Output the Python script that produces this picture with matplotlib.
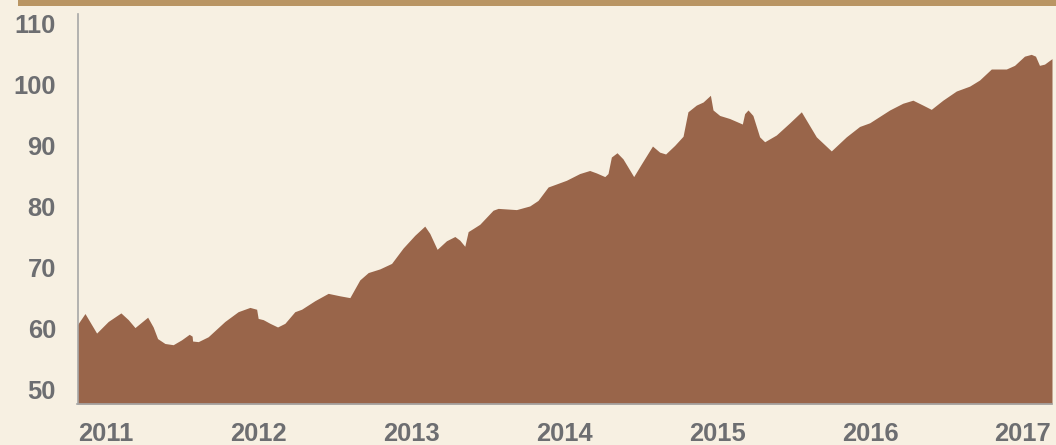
import matplotlib
matplotlib.use("Agg")
import matplotlib.pyplot as plt
from matplotlib.patches import Rectangle

# Data (fractional years, index values)
years = [2010.814, 2010.863, 2010.939, 2011.015, 2011.098, 2011.146, 2011.190, 2011.273,
         2011.309, 2011.338, 2011.386, 2011.440, 2011.495, 2011.545, 2011.564, 2011.567,
         2011.604, 2011.669, 2011.778, 2011.865, 2011.942, 2011.986, 2011.996, 2012.029,
         2012.073, 2012.123, 2012.171, 2012.236, 2012.280, 2012.367, 2012.454, 2012.530,
         2012.596, 2012.661, 2012.716, 2012.792, 2012.869, 2012.944, 2013.021, 2013.086,
         2013.119, 2013.167, 2013.228, 2013.283, 2013.315, 2013.348, 2013.370, 2013.402,
         2013.446, 2013.533, 2013.566, 2013.686, 2013.773, 2013.827, 2013.893, 2013.937,
         2014.013, 2014.100, 2014.165, 2014.209, 2014.264, 2014.285, 2014.307, 2014.344,
         2014.383, 2014.453, 2014.504, 2014.576, 2014.623, 2014.662, 2014.721, 2014.776,
         2014.808, 2014.863, 2014.907, 2014.955, 2014.972, 2015.016, 2015.081, 2015.164,
         2015.179, 2015.201, 2015.233, 2015.277, 2015.310, 2015.386, 2015.474, 2015.550,
         2015.648, 2015.746, 2015.844, 2015.931, 2015.997, 2016.128, 2016.214, 2016.280,
         2016.345, 2016.400, 2016.476, 2016.564, 2016.651, 2016.716, 2016.793, 2016.891,
         2016.945, 2017.010, 2017.054, 2017.082, 2017.108, 2017.141, 2017.190]
values = [60.7, 62.5, 59.3, 61.2, 62.6, 61.5, 60.2, 61.9,
          60.3, 58.4, 57.6, 57.4, 58.2, 59.1, 58.8, 58.0,
          57.9, 58.7, 61.2, 62.8, 63.5, 63.2, 61.7, 61.5,
          60.9, 60.3, 60.9, 62.8, 63.2, 64.6, 65.8, 65.4,
          65.1, 68.0, 69.2, 69.8, 70.7, 73.2, 75.3, 76.8,
          75.6, 73.0, 74.4, 75.1, 74.5, 73.5, 75.9, 76.4,
          77.1, 79.4, 79.7, 79.5, 80.1, 81.0, 83.2, 83.6,
          84.3, 85.4, 85.9, 85.5, 84.9, 85.4, 88.1, 88.8,
          87.8, 84.9, 87.0, 89.9, 88.9, 88.6, 90.0, 91.5,
          95.5, 96.6, 97.1, 98.2, 95.8, 94.9, 94.4, 93.5,
          95.2, 95.8, 94.9, 91.4, 90.6, 91.7, 93.7, 95.5,
          91.4, 89.1, 91.4, 93.1, 93.7, 95.8, 96.9, 97.4,
          96.6, 95.9, 97.4, 98.9, 99.7, 100.7, 102.5, 102.5,
          103.1, 104.6, 104.9, 104.6, 103.1, 103.3, 104.2]
x_ticks = [2011, 2012, 2013, 2014, 2015, 2016, 2017]
x_labels = ["2011", "2012", "2013", "2014", "2015", "2016", "2017"]
y_ticks = [50, 60, 70, 80, 90, 100, 110]

BG = "#F7F0E2"
FILL = "#99654A"
BAND = "#B99563"
TXT = "#6D6E71"
AXC = "#A7A7A7"

fig = plt.figure(figsize=(10.56, 4.45), dpi=100, facecolor=BG)
ax = fig.add_axes([77.5 / 1056, 41 / 445, (1052 - 77.5) / 1056, (431 - 41) / 445])
ax.set_facecolor(BG)

ymin = 47.7
ax.fill_between(years, values, ymin, color=FILL, linewidth=0, zorder=2)
ax.set_xlim(2010.814, 2017.19)
ax.set_ylim(ymin, 111.5)

ax.set_xticks(x_ticks)
ax.set_xticklabels(x_labels)
ax.set_yticks(y_ticks)
for s in ["top", "right"]:
    ax.spines[s].set_visible(False)
for s in ["left", "bottom"]:
    ax.spines[s].set_color(AXC)
    ax.spines[s].set_linewidth(1.2)
    ax.spines[s].set_zorder(3)

ax.tick_params(axis="both", length=0, colors=TXT)
ax.tick_params(axis="y", pad=15.5)
ax.tick_params(axis="x", pad=13)
for lab in ax.get_xticklabels() + ax.get_yticklabels():
    lab.set_fontfamily("Liberation Sans")
    lab.set_fontweight("bold")
    lab.set_fontsize(18.4)
    lab.set_color(TXT)

fig.patches.append(Rectangle((18 / 1056, 1 - 6 / 445), 1 - 18 / 1056, 6 / 445,
                             transform=fig.transFigure, facecolor=BAND,
                             edgecolor="none", zorder=5))

fig.savefig("out.png", dpi=100, facecolor=BG)
